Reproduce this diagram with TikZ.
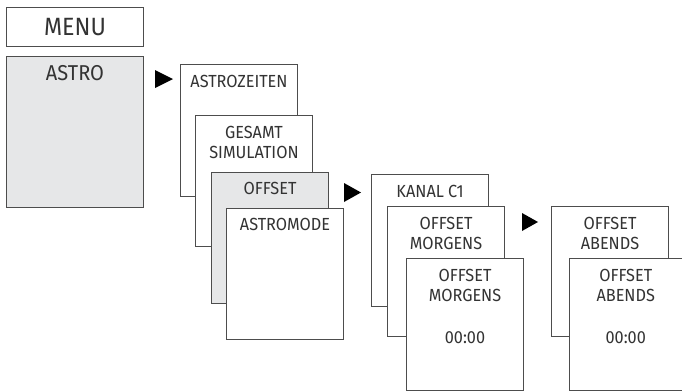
\documentclass[tikz,border=0pt]{standalone}
\usepackage{fontspec}
\setmainfont{Fira Sans}[FakeStretch=0.93]
\usetikzlibrary{calc, positioning}
\definecolor{mLineGrey}{HTML}{4D4D4D}
\definecolor{mPanelGrey}{HTML}{E6E7E8}
\tikzset{
  screen/.style={
    rectangle, draw=mLineGrey, line width=1pt, fill=white, anchor=north west, inner sep=0pt, minimum width=117pt, minimum height=131pt
  },
  screenhi/.style={
    screen, fill=mPanelGrey
  },
  caption/.style={
    anchor=north, inner sep=0pt, align=center, text=black!80, font=\fontsize{17.5}{20}\selectfont
  },
  pointer/.style={fill=black}
}
\begin{document}
\begin{tikzpicture}[x=1pt, y=-1pt]
    \useasboundingbox (0,0) rectangle (682,391);
        % main menu
        \node[screen, minimum width=137pt, minimum height=39pt] (menu) at (6,7) {};
        \node[caption, anchor=center, font=\fontsize{25}{28}\selectfont] (menuT) at (menu.center) {MENU};
        \node[screenhi, minimum width=137pt, minimum height=151pt] (astro) at (6,56) {};
        \node[caption, font=\fontsize{21.5}{24}\selectfont] (astroT) at ($(astro.north)+(0,9)$) {ASTRO};
        \fill[pointer] ($(astro.north east)+(11,14)$) -- ++(0,18) -- ++(18,-9) -- cycle;
        % astro submenu
        \node[screen, minimum height=132pt] (zeit) at (180,64) {};
        \node[caption] (zeitT) at ($(zeit.north)+(0,11)$) {ASTROZEITEN};
        \node[screen] (sim) at (195,115) {};
        \node[caption] (simT) at ($(sim.north)+(0,11)$) {GESAMT\\SIMULATION};
        \node[screenhi] (offs) at (211,172) {};
        \node[caption] (offsT) at ($(offs.north)+(0,10)$) {OFFSET};
        \node[screen] (mode) at (226,208) {};
        \node[caption] (modeT) at ($(mode.north)+(0,10)$) {ASTROMODE};
        \fill[pointer] ($(offs.north east)+(15,11)$) -- ++(0,19) -- ++(17,-9.5) -- cycle;
        % offset submenu
        \node[screen, minimum height=132pt] (kanal) at (371,174) {};
        \node[caption] (kanalT) at ($(kanal.north)+(0,11)$) {KANAL C1};
        \node[screen, minimum height=130pt] (morgA) at (387,206) {};
        \node[caption] (morgAT) at ($(morgA.north)+(0,11)$) {OFFSET\\MORGENS};
        \node[screen, minimum height=132pt] (morgB) at (406,258) {};
        \node[caption] (morgBT) at ($(morgB.north)+(0,11)$) {OFFSET\\MORGENS};
        \node[caption] (morgTime) at ($(morgB.north)+(0,73.5)$) {00:00};
        \fill[pointer] ($(morgA.north east)+(17,7)$) -- ++(0,18) -- ++(16,-9) -- cycle;
        % evening offset
        \node[screen, minimum height=130pt] (abdA) at (551,206) {};
        \node[caption] (abdAT) at ($(abdA.north)+(0,11)$) {OFFSET\\ABENDS};
        \node[screen, minimum width=112.5pt, minimum height=132pt] (abdB) at (569,258) {};
        \node[caption] (abdBT) at ($(abdB.north)+(0,11)$) {OFFSET\\ABENDS};
        \node[caption] (abdTime) at ($(abdB.north)+(0,73.5)$) {00:00};
\end{tikzpicture}
\end{document}
